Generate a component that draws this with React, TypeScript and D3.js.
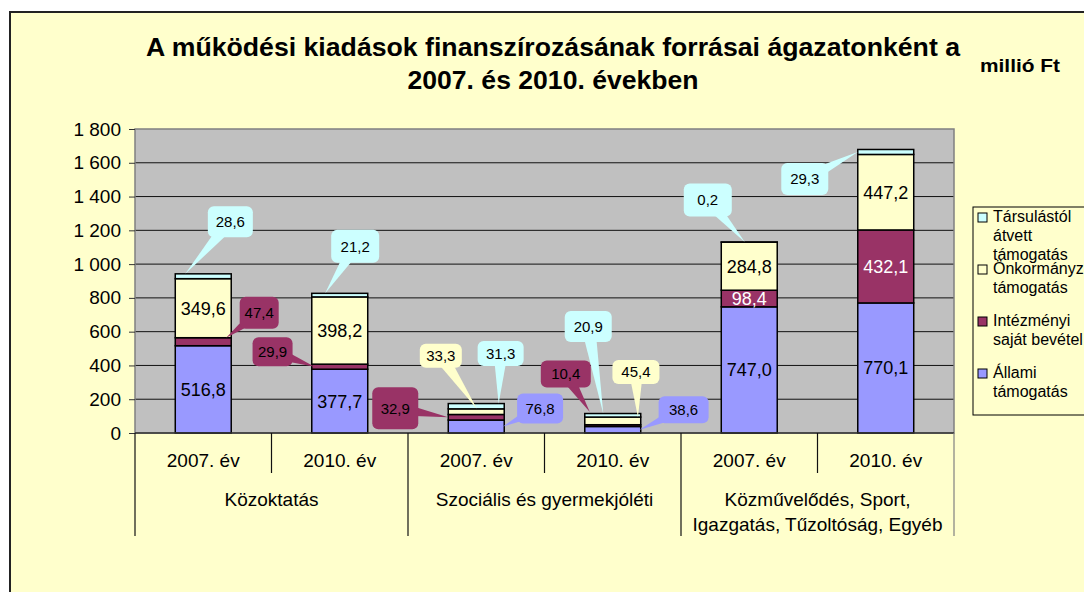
import React, { useRef, useEffect } from "react";
import * as d3 from "d3";

// categories
const groups = ["Közoktatás", "Szociális és gyermekjóléti", "Közművelődés, Sport,|Igazgatás, Tűzoltóság, Egyéb"];
const years = ["2007. év", "2010. év"];

// series (bottom to top in the stack)
const seriesNames = ["Állami támogatás", "Intézményi saját bevétel", "Önkormányzati támogatás", "Társulástól átvett támogatás"];
const allami = [516.8, 377.7, 76.8, 38.6, 747.0, 770.1];
const intezmenyi = [47.4, 29.9, 32.9, 10.4, 98.4, 432.1];
const onkormanyzati = [349.6, 398.2, 33.3, 45.4, 284.8, 447.2];
const tarsulastol = [28.6, 21.2, 31.3, 20.9, 0.2, 29.3];

const yTicks = [0, 200, 400, 600, 800, 1000, 1200, 1400, 1600, 1800];

const legendLines = [["Társulástól", "átvett", "támogatás"], ["Önkormányzati", "támogatás"], ["Intézményi", "saját bevétel"], ["Állami", "támogatás"]];

const colors = ["#9999FF", "#993366", "#FFFFCC", "#CCFFFF"];

// callouts for the thin segments: which bar / series, where the leader touches the bar
// (fraction across bar, fraction up the segment) and where the box sits relative to that tip
const callouts = [
    { bar: 0, s: 3, fx: 0.18, fy: 1, dx: 45, dy: -52, w: 45, h: 31 },
    { bar: 0, s: 1, fx: 0.91, fy: 1, dx: 33, dy: -25, w: 39, h: 32 },
    { bar: 1, s: 3, fx: 0.24, fy: 1, dx: 30, dy: -47, w: 48, h: 33 },
    { bar: 1, s: 1, fx: 0.05, fy: 0.5, dx: -42, dy: -15, w: 40, h: 29 },
    { bar: 2, s: 1, fx: 0, fy: 0.5, dx: -53, dy: -9, w: 46, h: 42 },
    { bar: 2, s: 2, fx: 0.51, fy: 1, dx: -36, dy: -53, w: 42, h: 24 },
    { bar: 2, s: 3, fx: 0.9, fy: 1, dx: 2, dy: -50, w: 46, h: 25 },
    { bar: 2, s: 0, fx: 0.98, fy: 0.5, dx: 37, dy: -18, w: 46, h: 30 },
    { bar: 3, s: 1, fx: 0.09, fy: 8.2, dx: -24, dy: -38, w: 50, h: 27 },
    { bar: 3, s: 3, fx: 0.33, fy: 1, dx: -15, dy: -87, w: 47, h: 31 },
    { bar: 3, s: 2, fx: 0.95, fy: 1, dx: -2, dy: -45, w: 47, h: 24 },
    { bar: 3, s: 0, fx: 0.98, fy: 0.5, dx: 44, dy: -20, w: 50, h: 27 },
    { bar: 4, s: 3, fx: 0.42, fy: 1, dx: -37, dy: -42, w: 48, h: 33 },
    { bar: 5, s: 3, fx: 0, fy: 0.5, dx: -53, dy: 27, w: 47, h: 32 },
];

const W = 1084;
const H = 592;
const FONT = "'Liberation Sans', Arial, sans-serif";

export default function App() {
    const svgRef = useRef<SVGSVGElement>(null);

    useEffect(() => {
        if (!svgRef.current) return;
        const svg = d3.select(svgRef.current);
        svg.selectAll("*").remove();

        const locale = d3.formatLocale({ decimal: ",", thousands: " ", grouping: [3], currency: ["", ""] });
        const tickFmt = locale.format(",d");
        const valFmt = locale.format(".1f");

        const plot = { left: 135, right: 954, top: 129, bottom: 433 };

        // outer chart area
        svg.append("rect").attr("width", W).attr("height", H).attr("fill", "#ffffff");
        svg.append("rect")
            .attr("x", 10).attr("y", 12)
            .attr("width", W + 20).attr("height", H + 20)
            .attr("fill", "#FFFFCC")
            .attr("stroke", "#222").attr("stroke-width", 2);

        // title (the original font runs a little wide)
        const title = svg.append("text")
            .attr("text-anchor", "middle")
            .attr("font-family", FONT)
            .attr("font-weight", "bold")
            .attr("font-size", 25)
            .attr("fill", "#000");
        title.append("tspan").attr("x", 553).attr("y", 56)
            .attr("textLength", 814).attr("lengthAdjust", "spacingAndGlyphs")
            .text("A működési kiadások finanszírozásának forrásai ágazatonként a");
        title.append("tspan").attr("x", 553).attr("y", 89)
            .attr("textLength", 291).attr("lengthAdjust", "spacingAndGlyphs")
            .text("2007. és 2010. években");

        svg.append("text")
            .attr("x", 980).attr("y", 72)
            .attr("font-family", FONT).attr("font-weight", "bold").attr("font-size", 18)
            .attr("textLength", 80).attr("lengthAdjust", "spacingAndGlyphs")
            .text("millió Ft");

        // scales
        const x = d3.scaleBand<number>()
            .domain(d3.range(allami.length))
            .range([plot.left, plot.right])
            .padding(0);
        const barW = x.bandwidth() * 0.41;

        const y = d3.scaleLinear()
            .domain([0, 1800])
            .range([plot.bottom, plot.top]);

        // plot background
        svg.append("rect")
            .attr("x", plot.left).attr("y", plot.top)
            .attr("width", plot.right - plot.left).attr("height", plot.bottom - plot.top)
            .attr("fill", "#C0C0C0");

        // grid
        svg.append("g")
            .selectAll("line")
            .data(yTicks.slice(1, -1))
            .join("line")
            .attr("x1", plot.left).attr("x2", plot.right)
            .attr("y1", d => y(d)).attr("y2", d => y(d))
            .attr("stroke", "#111").attr("stroke-width", 1);

        svg.append("rect")
            .attr("x", plot.left).attr("y", plot.top)
            .attr("width", plot.right - plot.left).attr("height", plot.bottom - plot.top)
            .attr("fill", "none")
            .attr("stroke", "#808080").attr("stroke-width", 1.5);

        // y axis
        const yAxis = svg.append("g")
            .attr("transform", `translate(${plot.left},0)`)
            .call(d3.axisLeft(y).tickValues(yTicks).tickSize(6).tickPadding(8).tickFormat(d => tickFmt(d as number)));
        yAxis.select(".domain").remove();
        yAxis.selectAll(".tick line").attr("stroke", "#333");
        yAxis.selectAll(".tick text")
            .attr("font-family", FONT).attr("font-size", 19).attr("fill", "#000");

        // stacked bars
        const table = allami.map((_, i) => ({
            i,
            s0: allami[i], s1: intezmenyi[i], s2: onkormanyzati[i], s3: tarsulastol[i],
        }));
        const stack = d3.stack<any>().keys(["s0", "s1", "s2", "s3"])(table);

        const barX = (i: number) => x(i)! + (x.bandwidth() - barW) / 2;

        stack.forEach((layer, s) => {
            svg.append("g")
                .selectAll("rect")
                .data(layer)
                .join("rect")
                .attr("x", d => barX(d.data.i))
                .attr("y", d => y(d[1]))
                .attr("width", barW)
                .attr("height", d => y(d[0]) - y(d[1]))
                .attr("fill", colors[s])
                .attr("stroke", "#000")
                .attr("stroke-width", 1.5);
        });

        // labels inside the thick segments
        stack.forEach((layer, s) => {
            svg.append("g")
                .selectAll("text")
                .data(layer.filter(d => y(d[0]) - y(d[1]) > 14))
                .join("text")
                .attr("x", d => barX(d.data.i) + barW / 2)
                .attr("y", d => (y(d[0]) + y(d[1])) / 2)
                .attr("dy", "0.36em")
                .attr("text-anchor", "middle")
                .attr("font-family", FONT).attr("font-size", 18)
                .attr("fill", s === 1 ? "#fff" : "#000")
                .text(d => valFmt(d[1] - d[0]));
        });

        // callouts for thin segments
        const cg = svg.append("g");
        callouts.forEach(c => {
            const seg = stack[c.s][c.bar];
            const tx = barX(c.bar) + c.fx * barW;
            const ty = y(seg[0] + c.fy * (seg[1] - seg[0]));
            const bx = tx + c.dx;
            const by = ty + c.dy;
            const len = Math.hypot(tx - bx, ty - by) || 1;
            const px = -(ty - by) / len * 7;
            const py = (tx - bx) / len * 7;
            cg.append("path")
                .attr("d", `M${bx + px},${by + py}L${tx},${ty}L${bx - px},${by - py}Z`)
                .attr("fill", colors[c.s]);
            cg.append("rect")
                .attr("x", bx - c.w / 2).attr("y", by - c.h / 2)
                .attr("width", c.w).attr("height", c.h)
                .attr("rx", 6)
                .attr("fill", colors[c.s]);
            cg.append("text")
                .attr("x", bx).attr("y", by)
                .attr("dy", "0.36em")
                .attr("text-anchor", "middle")
                .attr("font-family", FONT).attr("font-size", 15)
                .attr("fill", "#000")
                .text(valFmt(seg[1] - seg[0]));
        });

        // category axis
        svg.append("line")
            .attr("x1", plot.left).attr("x2", plot.right)
            .attr("y1", plot.bottom).attr("y2", plot.bottom)
            .attr("stroke", "#333").attr("stroke-width", 1.5);

        const bounds = d3.range(allami.length + 1).map(i => plot.left + i * x.bandwidth());
        svg.append("g")
            .selectAll("line")
            .data(bounds)
            .join("line")
            .attr("x1", d => d).attr("x2", d => d)
            .attr("y1", plot.bottom)
            .attr("y2", (_, i) => (i % 2 === 0 ? 536 : 473))
            .attr("stroke", (_, i) => (i === bounds.length - 1 ? "#808080" : "#111"))
            .attr("stroke-width", 1.2);

        svg.append("g")
            .selectAll("text")
            .data(d3.range(allami.length))
            .join("text")
            .attr("x", d => x(d)! + x.bandwidth() / 2)
            .attr("y", 467)
            .attr("text-anchor", "middle")
            .attr("font-family", FONT).attr("font-size", 19)
            .text(d => years[d % 2]);

        groups.forEach((g, gi) => {
            const cx = plot.left + (gi * 2 + 1) * x.bandwidth();
            const t = svg.append("text")
                .attr("text-anchor", "middle")
                .attr("font-family", FONT).attr("font-size", 19);
            g.split("|").forEach((line, li) => {
                t.append("tspan").attr("x", cx).attr("y", 506 + li * 25).text(line);
            });
        });

        // legend
        svg.append("rect")
            .attr("x", 973).attr("y", 207)
            .attr("width", 140).attr("height", 208)
            .attr("fill", "#FFFFCC")
            .attr("stroke", "#000").attr("stroke-width", 1);

        const order = [3, 2, 1, 0];
        order.forEach((s, k) => {
            const base = 222 + k * 52;
            svg.append("rect")
                .attr("x", 978).attr("y", base - 9)
                .attr("width", 9).attr("height", 9)
                .attr("fill", colors[s])
                .attr("stroke", "#000").attr("stroke-width", 1);
            const t = svg.append("text")
                .attr("font-family", FONT).attr("font-size", 16)
                .attr("fill", "#000")
                .attr("aria-label", seriesNames[s]);
            legendLines[k].forEach((line, li) => {
                t.append("tspan").attr("x", 993).attr("y", base + li * 19).text(line);
            });
        });
    }, []);

    return (
        <div style={{ position: "absolute", left: 0, top: 0, width: W, height: H, overflow: "hidden" }}>
            <svg ref={svgRef} width={W} height={H} style={{ display: "block" }} />
        </div>
    );
}
